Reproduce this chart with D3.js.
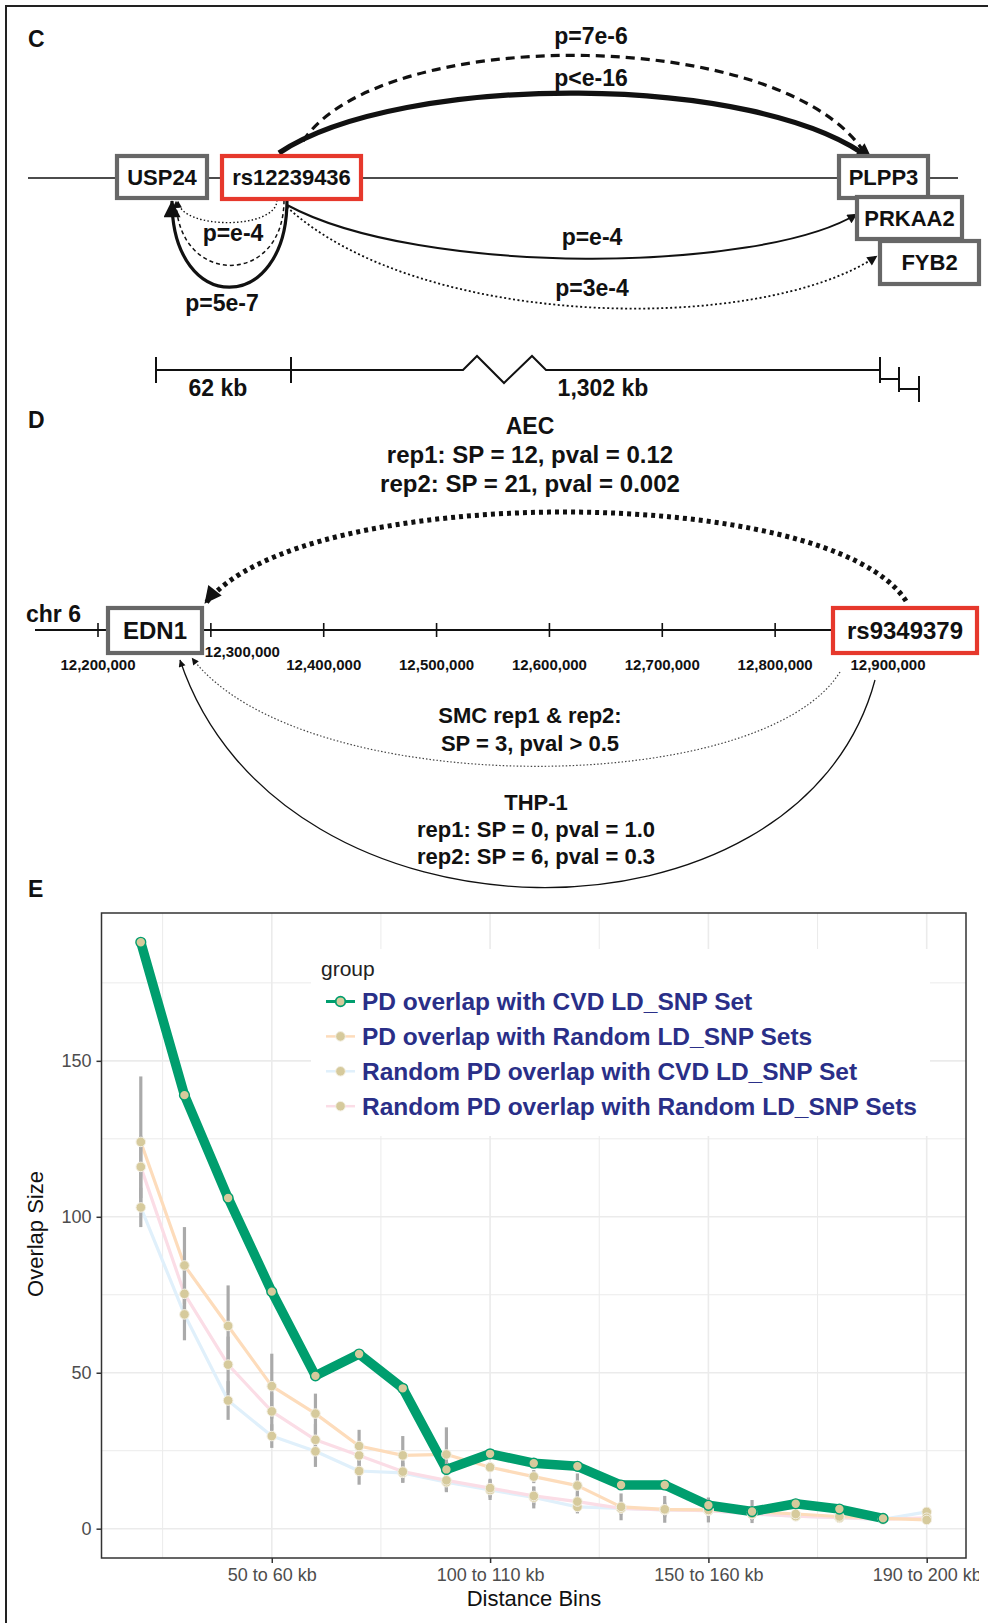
<!DOCTYPE html>
<html><head><meta charset="utf-8">
<script src="https://cdn.jsdelivr.net/npm/d3@7"></script>
<style>
body{margin:0;background:#fff;}
svg{display:block;font-family:"Liberation Sans",Arial,Helvetica,sans-serif;}
</style>
</head><body>
<svg id="fig" width="988" height="1623"></svg>
<script>
// ---------------- DATA ----------------
// Panel C
const cNodes = ["USP24", "rs12239436", "PLPP3", "PRKAA2", "FYB2"];
const cNodeKind = ["gene", "snp", "gene", "gene", "gene"];
const cLinkLabels = ["p=7e-6", "p<e-16", "p=e-4", "p=5e-7", "p=e-4", "p=3e-4"];
const cScaleLabels = ["62 kb", "1,302 kb"];

// Panel D
const dChrom = "chr 6";
const dTicks = [12200000, 12300000, 12400000, 12500000, 12600000, 12700000, 12800000, 12900000];
const dNodes = ["EDN1", "rs9349379"];
const dAEC = ["AEC", "rep1: SP = 12, pval = 0.12", "rep2: SP = 21, pval = 0.002"];
const dSMC = ["SMC rep1 & rep2:", "SP = 3, pval > 0.5"];
const dTHP = ["THP-1", "rep1: SP = 0, pval = 1.0", "rep2: SP = 6, pval = 0.3"];

// Panel E
const binLabels = ["20 to 30 kb","30 to 40 kb","40 to 50 kb","50 to 60 kb","60 to 70 kb","70 to 80 kb",
  "80 to 90 kb","90 to 100 kb","100 to 110 kb","110 to 120 kb","120 to 130 kb","130 to 140 kb",
  "140 to 150 kb","150 to 160 kb","160 to 170 kb","170 to 180 kb","180 to 185 kb","185 to 190 kb","190 to 200 kb"];
const xTickLabels = ["50 to 60 kb", "100 to 110 kb", "150 to 160 kb", "190 to 200 kb"];
const yTicks = [0, 50, 100, 150];
const seriesNames = ["PD overlap with CVD LD_SNP Set", "PD overlap with Random LD_SNP Sets",
  "Random PD overlap with CVD LD_SNP Set", "Random PD overlap with Random LD_SNP Sets"];
const pdCvd = [188, 139, 106, 76, 49, 56, 45, 19, 24, 21, 20, 14, 14, 7.5, 5.5, 8, 6.3, 3.3, null];
const pdRandom = [124, 84.4, 65, 45.7, 36.9, 26.5, 23.5, 23.8, 19.7, 16.7, 13.8, 7, 6.2, 6, 5.5, 4.7, 3.9, 3.3, 2.8];
const pdRandomSd = [21, 12.3, 13, 10.4, 6.4, 5.2, 6.2, 8.7, 1.5, 2.1, 3.9, 4.3, 4.3, 4, 3.7, 1.5, 1.5, 1.5, 1.5];
const randPdCvd = [103, 68.7, 41.1, 29.7, 24.8, 18.5, 17.9, 14.9, 12.4, 10, 7, 6.5, 6, 5.8, 4.7, 4, 3.5, 3, 5.4];
const randPdCvdSd = [6.3, 8.3, 6.2, 3.8, 5, 4.4, 3.2, 3.2, 3.2, 3.5, 2.1, 1.6, 2.4, 1.1, 1.9, 1.5, 1.5, 1.5, 1.5];
const randPdRandom = [116, 75.3, 52.6, 37.6, 28.5, 23.5, 18.3, 15.5, 13, 10.5, 8.7, 6.5, 6, 5.8, 4.7, 4, 3.5, 3, 3.5];
const randPdRandomSd = [10, 8, 9, 6, 5, 4, 3.5, 3.5, 3, 3, 3, 2, 2, 2, 2, 1.5, 1.5, 1.5, 1.5];

// ---------------- DRAWING ----------------
const svg = d3.select("#fig");
const INK = "#111";
const GRAYBOX = "#676767";
const REDBOX = "#e6382c";

// arrow markers
const defs = svg.append("defs");
function marker(id, w, h) {
  defs.append("marker").attr("id", id).attr("viewBox", "0 0 10 10")
    .attr("refX", 9.5).attr("refY", 5).attr("markerUnits", "userSpaceOnUse")
    .attr("markerWidth", w).attr("markerHeight", h).attr("orient", "auto")
    .append("path").attr("d", "M0,0 L10,5 L0,10 Z").attr("fill", INK);
}
marker("big", 22, 17);
marker("med", 13, 10);
marker("small", 9, 7);

function cubic(p) {
  const pa = d3.path();
  pa.moveTo(p[0], p[1]);
  pa.bezierCurveTo(p[2], p[3], p[4], p[5], p[6], p[7]);
  return pa.toString();
}
function box(g, x0, y0, x1, y1, kind, label, fs) {
  g.append("rect").attr("x", x0).attr("y", y0).attr("width", x1 - x0).attr("height", y1 - y0)
    .attr("fill", "#fff").attr("stroke", kind === "snp" ? REDBOX : GRAYBOX).attr("stroke-width", 4.2);
  g.append("text").attr("x", (x0 + x1) / 2).attr("y", (y0 + y1) / 2 + fs * 0.36)
    .attr("text-anchor", "middle").attr("font-weight", "bold").attr("font-size", fs)
    .attr("fill", INK).text(label);
}
function label(g, x, y, txt, fs, anchor) {
  return g.append("text").attr("x", x).attr("y", y).attr("text-anchor", anchor || "middle")
    .attr("font-weight", "bold").attr("font-size", fs).attr("fill", INK).text(txt);
}

// figure frame
svg.append("path").attr("d", "M6,1623 V6 H988").attr("fill", "none").attr("stroke", "#222").attr("stroke-width", 2);

// ===== Panel C =====
const gC = svg.append("g");
label(gC, 28, 47, "C", 23, "start");
gC.append("line").attr("x1", 28).attr("x2", 958).attr("y1", 178).attr("y2", 178)
  .attr("stroke", INK).attr("stroke-width", 1.6);

const cLayout = [[117, 156, 207, 198], [222, 156, 361, 199], [839, 156, 928, 198], [857, 197, 962, 239], [880, 241, 979, 284]];
const cArcs = [
  {d: [303, 141, 380, 25, 780, 25, 864, 152], w: 3.2, dash: "9,6", m: null},
  {d: [279, 153, 400, 72, 760, 72, 872, 160], w: 5.2, dash: null, m: "big"},
  {d: [277, 200, 277, 230, 180, 230, 178, 201], w: 1.4, dash: "1.5,2.2", m: "small"},
  {d: [284, 200, 284, 287, 178, 287, 176, 201], w: 1.5, dash: "4,3", m: "small"},
  {d: [287, 200, 287, 316, 172, 316, 172, 201], w: 3.2, dash: null, m: "big"},
  {d: [287, 205, 420, 277, 760, 273, 857, 214], w: 2, dash: null, m: "med"},
  {d: [287, 207, 420, 330, 760, 335, 877, 256], w: 1.8, dash: "2,2.5", m: "med"}
];
cArcs.forEach(a => {
  const p = gC.append("path").attr("d", cubic(a.d)).attr("fill", "none").attr("stroke", INK)
    .attr("stroke-width", a.w);
  if (a.dash) p.attr("stroke-dasharray", a.dash);
  if (a.m) p.attr("marker-end", `url(#${a.m})`);
});
cNodes.forEach((n, i) => box(gC, ...cLayout[i], cNodeKind[i], n, 22));
const cLabPos = [[591, 44], [591, 86], [233, 241], [222, 311], [592, 245], [592, 296]];
cLinkLabels.forEach((t, i) => label(gC, cLabPos[i][0], cLabPos[i][1], t, 23));

// scale bar
gC.append("path").attr("d",
  "M156,370 H463 L477,356 L504,383 L532,356 L546,370 H880 M156,357 V383 M291,357 V383 M880,357 V383 M880,379 H899 M899,367 V392 M899,389 H919 M919,376 V402")
  .attr("fill", "none").attr("stroke", INK).attr("stroke-width", 2);
label(gC, 218, 396, cScaleLabels[0], 23);
label(gC, 603, 396, cScaleLabels[1], 23);

// ===== Panel D =====
const gD = svg.append("g");
label(gD, 28, 428, "D", 23, "start");
const gx = d3.scaleLinear().domain([12200000, 12900000]).range([98, 888]);
const lineY = 630;

gD.append("path").attr("d", cubic([906, 601, 830, 482, 300, 482, 206, 603]))
  .attr("fill", "none").attr("stroke", INK).attr("stroke-width", 5).attr("stroke-dasharray", "4,4");
gD.append("path").attr("d", cubic([906, 601, 830, 482, 300, 482, 205, 603])).attr("fill", "none")
  .attr("stroke", "none").attr("marker-end", "url(#big)");
gD.append("path").attr("d", cubic([840, 672, 760, 800, 300, 800, 192, 658]))
  .attr("fill", "none").attr("stroke", "#444").attr("stroke-width", 1.2).attr("stroke-dasharray", "1.5,2")
  .attr("marker-end", "url(#small)");
gD.append("path").attr("d", cubic([875, 680, 800, 960, 280, 960, 180, 660]))
  .attr("fill", "none").attr("stroke", INK).attr("stroke-width", 1.3).attr("marker-end", "url(#small)");

label(gD, 26, 622, dChrom, 23, "start");
gD.append("line").attr("x1", 35).attr("x2", 840).attr("y1", lineY).attr("y2", lineY)
  .attr("stroke", INK).attr("stroke-width", 2.2);
const fmt = d3.format(",");
dTicks.forEach((t, i) => {
  gD.append("line").attr("x1", gx(t)).attr("x2", gx(t)).attr("y1", lineY - 7).attr("y2", lineY + 7)
    .attr("stroke", INK).attr("stroke-width", 1.6);
  if (i === 1) label(gD, gx(t) - 6, 657, fmt(t), 15, "start");
  else label(gD, gx(t), 670, fmt(t), 15);
});
box(gD, 108, 608, 202, 653, "gene", dNodes[0], 24);
box(gD, 833, 608, 977, 653, "snp", dNodes[1], 24);

label(gD, 530, 434, dAEC[0], 23);
label(gD, 530, 463, dAEC[1], 24);
label(gD, 530, 492, dAEC[2], 24);
label(gD, 530, 723, dSMC[0], 22);
label(gD, 530, 751, dSMC[1], 22);
label(gD, 536, 810, dTHP[0], 22);
label(gD, 536, 837, dTHP[1], 22);
label(gD, 536, 864, dTHP[2], 22);

// ===== Panel E =====
const gE = svg.append("g");
label(gE, 28, 897, "E", 23, "start");
const L = 101.5, R = 966, T = 913, B = 1558;
const x = d3.scaleLinear().domain([0.1, 19.9]).range([L, R]);
const y = d3.scaleLinear().domain([-9.4, 197.4]).range([B, T]);
const idx = binLabels.map((_, i) => i + 1);
const xTickIdx = xTickLabels.map(l => binLabels.indexOf(l) + 1);
const xMinor = xTickIdx.map(v => v - 2.5);
const yMinor = yTicks.map(v => v + 25);

gE.append("rect").attr("x", L).attr("y", T).attr("width", R - L).attr("height", B - T).attr("fill", "#fff");
const grid = gE.append("g").attr("stroke", "#ebebeb");
xMinor.forEach(v => grid.append("line").attr("x1", x(v)).attr("x2", x(v)).attr("y1", T).attr("y2", B).attr("stroke-width", 1));
xTickIdx.forEach(v => grid.append("line").attr("x1", x(v)).attr("x2", x(v)).attr("y1", T).attr("y2", B).attr("stroke-width", 1.6));
yMinor.forEach(v => grid.append("line").attr("x1", L).attr("x2", R).attr("y1", y(v)).attr("y2", y(v)).attr("stroke-width", 1));
yTicks.forEach(v => grid.append("line").attr("x1", L).attr("x2", R).attr("y1", y(v)).attr("y2", y(v)).attr("stroke-width", 1.6));

// legend background
gE.append("rect").attr("x", 311).attr("y", 949).attr("width", 619).attr("height", 187).attr("fill", "#fff");

const GREEN = "#009e6e", TAN = "#d6ca9c";
const lineCols = ["#fddcbb", "#e0f0fb", "#fbdde6"];
const randomSeries = [
  {v: randPdCvd, sd: randPdCvdSd, c: lineCols[1]},
  {v: randPdRandom, sd: randPdRandomSd, c: lineCols[2]},
  {v: pdRandom, sd: pdRandomSd, c: lineCols[0]}
];
const lineGen = d3.line().defined(d => d != null).x((d, i) => x(idx[i])).y(d => y(d));
const plot = gE.append("g");
randomSeries.forEach(s => plot.append("path").attr("d", lineGen(s.v)).attr("fill", "none")
  .attr("stroke", s.c).attr("stroke-width", 3.2).attr("stroke-linejoin", "round"));
plot.append("path").attr("d", lineGen(pdCvd)).attr("fill", "none").attr("stroke", GREEN)
  .attr("stroke-width", 9.5).attr("stroke-linejoin", "round");
randomSeries.forEach(s => s.v.forEach((v, i) => {
  plot.append("line").attr("x1", x(idx[i])).attr("x2", x(idx[i]))
    .attr("y1", y(v - s.sd[i])).attr("y2", y(v + s.sd[i]))
    .attr("stroke", "#aaaaaa").attr("stroke-width", 3.2);
}));
randomSeries.forEach(s => s.v.forEach((v, i) => {
  plot.append("circle").attr("cx", x(idx[i])).attr("cy", y(v)).attr("r", 4.8)
    .attr("fill", TAN).attr("stroke", "#f4f0e4").attr("stroke-width", 1);
}));
pdCvd.forEach((v, i) => {
  if (v == null) return;
  plot.append("circle").attr("cx", x(idx[i])).attr("cy", y(v)).attr("r", 4.9)
    .attr("fill", TAN).attr("stroke", GREEN).attr("stroke-width", 1.4);
});

// border
gE.append("rect").attr("x", L).attr("y", T).attr("width", R - L).attr("height", B - T)
  .attr("fill", "none").attr("stroke", "#333").attr("stroke-width", 1.5);

// axes
const xAxis = gE.append("g").attr("transform", `translate(0,${B})`)
  .call(d3.axisBottom(x).tickValues(xTickIdx).tickFormat(v => binLabels[v - 1]).tickSize(5).tickPadding(5));
const yAxis = gE.append("g").attr("transform", `translate(${L},0)`)
  .call(d3.axisLeft(y).tickValues(yTicks).tickFormat(d3.format("d")).tickSize(5).tickPadding(5));
[xAxis, yAxis].forEach(a => {
  a.select(".domain").remove();
  a.selectAll(".tick line").attr("stroke", "#333").attr("stroke-width", 1.5);
  a.selectAll(".tick text").attr("fill", "#4d4d4d").attr("font-size", 18)
    .attr("font-family", "Liberation Sans, Arial, sans-serif");
});
gE.append("text").attr("x", 534).attr("y", 1606).attr("text-anchor", "middle").attr("font-size", 22)
  .attr("fill", "#111").text("Distance Bins");
gE.append("text").attr("transform", "translate(43,1234) rotate(-90)").attr("text-anchor", "middle")
  .attr("font-size", 22).attr("fill", "#111").text("Overlap Size");

// legend
const lg = gE.append("g");
lg.append("text").attr("x", 321).attr("y", 976).attr("font-size", 21).attr("fill", "#222").text("group");
const legCols = [GREEN, lineCols[0], lineCols[1], lineCols[2]];
seriesNames.forEach((n, i) => {
  const cy = 1001.5 + i * 34.9;
  lg.append("line").attr("x1", 326).attr("x2", 355).attr("y1", cy).attr("y2", cy)
    .attr("stroke", legCols[i]).attr("stroke-width", i === 0 ? 3 : 2.5);
  lg.append("circle").attr("cx", 340.5).attr("cy", cy).attr("r", 4.8).attr("fill", TAN)
    .attr("stroke", i === 0 ? GREEN : "#f4f0e4").attr("stroke-width", i === 0 ? 1.8 : 1);
  lg.append("text").attr("x", 362).attr("y", cy + 8.6).attr("font-size", 24.5).attr("font-weight", "bold")
    .attr("fill", "#2a2f88").text(n);
});
// right-edge crop of original figure
svg.append("rect").attr("x", 979).attr("y", 1560).attr("width", 9).attr("height", 40).attr("fill", "#fff");
</script>
</body></html>
